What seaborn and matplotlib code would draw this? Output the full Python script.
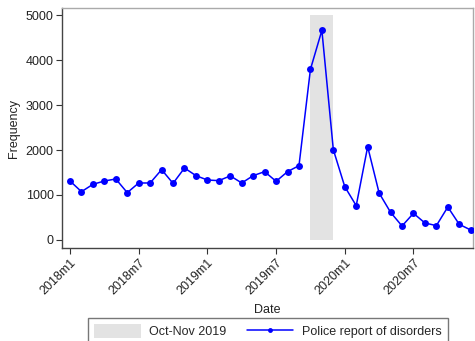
import matplotlib
matplotlib.use("Agg")
import matplotlib.pyplot as plt
import matplotlib.patches as mpatches
from matplotlib.lines import Line2D
import numpy as np
import pandas as pd
import seaborn as sns

# Monthly police reports of disorders, 2018m1 - 2020m12
months = list(range(36))
reports = [1311, 1074, 1237, 1311, 1356, 1052, 1267, 1267, 1563, 1259, 1600, 1430,
           1333, 1319, 1425, 1267, 1430, 1519, 1304, 1519, 1652, 3793, 4659, 2007,
           1185, 763, 2074, 1044, 615, 311, 593, 378, 319, 733, 348, 222]
tick_positions = [0, 6, 12, 18, 24, 30]
tick_labels = ["2018m1", "2018m7", "2019m1", "2019m7", "2020m1", "2020m7"]
y_ticks = [0, 1000, 2000, 3000, 4000, 5000]
shade_start, shade_end = 21, 23
shade_top = 5000

sns.set_style("ticks")
plt.rcParams["font.family"] = ["Liberation Sans", "DejaVu Sans"]

df = pd.DataFrame({"month": months, "reports": reports})

fig = plt.figure(figsize=(4.75, 3.41), dpi=100)
ax = fig.add_axes([62 / 475, 1 - 248 / 341, (473 - 62) / 475, (248 - 8) / 341])

ax.fill_between([shade_start, shade_end], 0, shade_top, color="#e3e3e3", lw=0, zorder=1)
sns.lineplot(data=df, x="month", y="reports", color="#0000ff", marker="o",
             markersize=5, markeredgewidth=0, linewidth=1.1, ax=ax, zorder=3)

ax.set_xlim(-0.7, 35.2)
ax.set_ylim(-178, 5156)
ax.set_yticks(y_ticks)
ax.set_yticklabels([str(v) for v in y_ticks])
ax.set_xticks(tick_positions)
ax.set_xticklabels(tick_labels, rotation=45, ha="right", rotation_mode="anchor")
ax.set_xlabel("Date", fontsize=9, labelpad=5, color="#222222")
ax.set_ylabel("Frequency", fontsize=9, labelpad=4, color="#222222")
ax.tick_params(axis="both", labelsize=9, length=4, width=0.8, color="#333333",
               labelcolor="#222222", direction="out", pad=2)

for side in ["left", "bottom"]:
    ax.spines[side].set_color("#444444")
    ax.spines[side].set_linewidth(1.0)
for side in ["top", "right"]:
    ax.spines[side].set_visible(True)
    ax.spines[side].set_color("#aaaaaa")
    ax.spines[side].set_linewidth(1.0)

handles = [
    mpatches.Patch(facecolor="#e3e3e3", edgecolor="none", label="Oct-Nov 2019"),
    Line2D([0], [0], color="#0000ff", marker="o", markersize=3.5, markeredgewidth=0,
           linewidth=1.1, label="Police report of disorders"),
]
leg = fig.legend(handles=handles, loc="upper left", bbox_to_anchor=(88 / 475, 1 - 318 / 341),
                 borderaxespad=0, ncol=2, fontsize=9, frameon=True, fancybox=False,
                 handlelength=3.7, handleheight=1.3, columnspacing=1.7, borderpad=0.5,
                 handletextpad=0.65)
leg.get_frame().set_edgecolor("#555555")
leg.get_frame().set_linewidth(1.0)

fig.savefig("out.png", dpi=100)
